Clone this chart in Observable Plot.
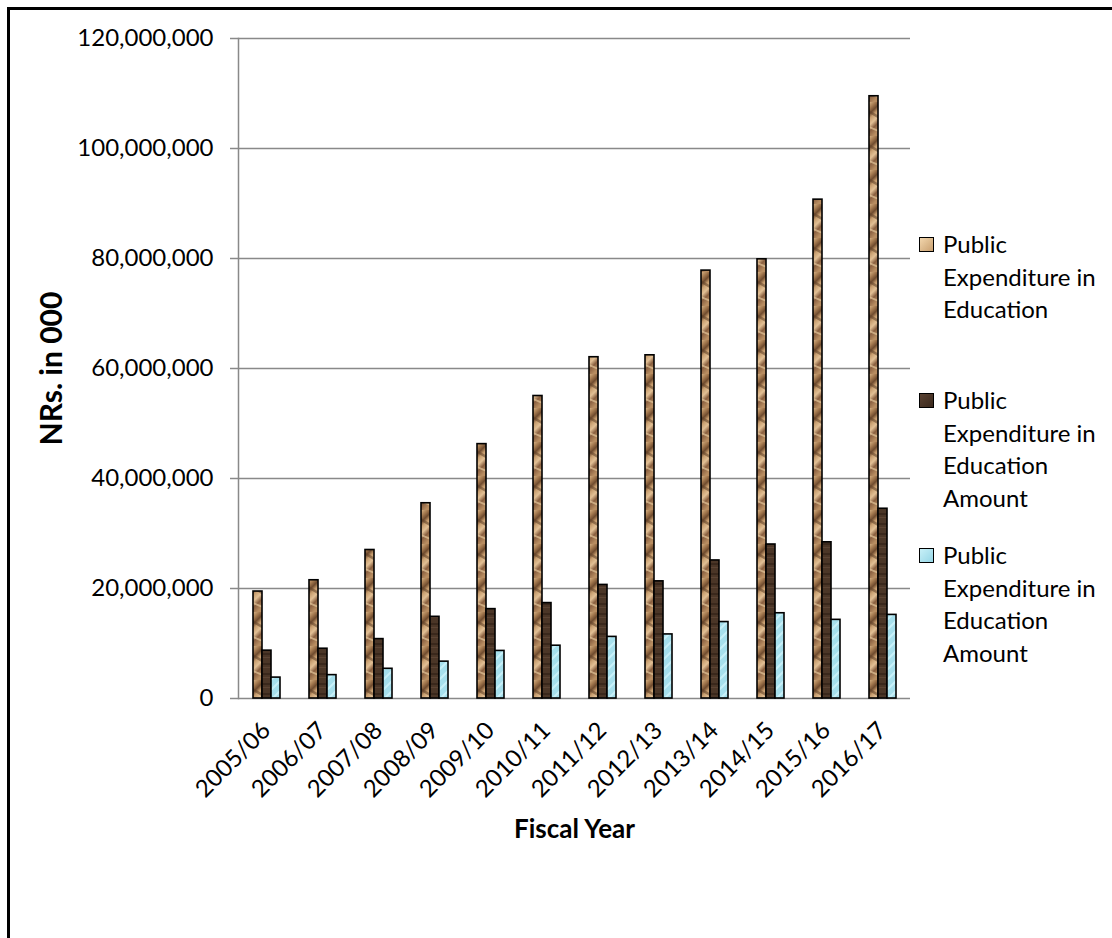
<!DOCTYPE html>
<html>
<head>
<meta charset="utf-8">
<script src="https://cdn.jsdelivr.net/npm/d3@7"></script>
<script src="https://cdn.jsdelivr.net/npm/@observablehq/plot@0.6"></script>
<style>
  html, body { margin: 0; padding: 0; background: #fff; overflow: hidden; }
  body { width: 1112px; height: 938px; position: relative; font-family: Lato, "Open Sans", sans-serif; }
  #border { position: absolute; left: 7px; top: 7px; width: 1300px; height: 1100px;
            border-left: 3px solid #000; border-top: 3px solid #000; }
  #chart { position: absolute; left: 0; top: 0; }
  #chart svg g[aria-label="y-axis label"] { font-weight: 700; font-size: 30px; }
  #chart svg g[aria-label="fx-axis label"] { font-weight: 700; font-size: 26px; }
  .legend { position: absolute; left: 919px; font-size: 24px; line-height: 32.5px; color: #000; }
  .legend .item { position: absolute; left: 0; width: 190px; }
  .legend .swatch { position: absolute; left: 0; top: 9px; width: 13px; height: 13px; border: 1.5px solid #000; }
  .legend .txt { position: absolute; left: 24px; top: 0; white-space: nowrap; }
</style>
</head>
<body>
<div id="border"></div>
<div id="chart"></div>
<div class="legend" id="legend"></div>
<script>
// Fiscal years on the x axis
const years = ["2005/06", "2006/07", "2007/08", "2008/09", "2009/10", "2010/11",
               "2011/12", "2012/13", "2013/14", "2014/15", "2015/16", "2016/17"];

// Series names (shown in the legend)
const seriesNames = [
  "Public Expenditure in Education",
  "Public Expenditure in Education Amount",
  "Public Expenditure in Education Amount "
];

// Values in NRs. thousands
const totalExpenditure = [19450000, 21500000, 27000000, 35500000, 46250000, 55000000,
                          62050000, 62400000, 77800000, 79850000, 90700000, 109500000];
const amountSeriesA = [8700000, 9050000, 10800000, 14850000, 16250000, 17350000,
                       20650000, 21300000, 25100000, 28000000, 28400000, 34500000];
const amountSeriesB = [3800000, 4250000, 5400000, 6700000, 8650000, 9600000,
                       11200000, 11650000, 13900000, 15500000, 14300000, 15200000];

const yTicks = [0, 20000000, 40000000, 60000000, 80000000, 100000000, 120000000];

const seriesValues = [totalExpenditure, amountSeriesA, amountSeriesB];
const rows = years.flatMap((year, i) =>
  seriesNames.map((s, j) => ({year, series: s, value: seriesValues[j][i]})));

const fills = ["url(#wood)", "url(#bark)", "url(#ice)"];
const gridColor = "#898989";

const plot = Plot.plot({
  width: 930,
  height: 830,
  marginLeft: 237,
  marginRight: 19,
  marginTop: 38,
  marginBottom: 132,
  style: {fontFamily: "Lato, 'Open Sans', sans-serif", fontSize: "24px", color: "#000", background: "transparent", overflow: "visible"},
  fx: {domain: years, padding: 0, label: "Fiscal Year"},
  x: {domain: seriesNames, paddingInner: 0, paddingOuter: 1.31, axis: null},
  y: {domain: [0, 120000000], label: "NRs. in 000"},
  color: {domain: seriesNames, range: fills},
  marks: [
    Plot.gridY(yTicks, {stroke: gridColor, strokeOpacity: 1, strokeWidth: 1.5}),
    Plot.frame({anchor: "left", facetAnchor: "left", stroke: gridColor, strokeWidth: 1.5}),
    Plot.axisY(yTicks, {
      tickFormat: d3.format(","), tickSize: 8, tickPadding: 17,
      stroke: gridColor, strokeWidth: 1.5, fill: "#000",
      label: "NRs. in 000", labelAnchor: "center", labelArrow: "none", labelOffset: 198
    }),
    Plot.axisFx({
      anchor: "bottom", tickRotate: -45, tickSize: 0, tickPadding: 28, fill: "#000",
      label: "Fiscal Year", labelAnchor: "center", labelArrow: "none", labelOffset: 139
    }),
    Plot.barY(rows, {
      fx: "year", x: "series", y: "value", fill: "series",
      stroke: "#000", strokeWidth: 1.6
    })
  ]
});

document.getElementById("chart").appendChild(plot);

// Textured fills for the three series
const svg = d3.select(plot);
const defs = svg.insert("defs", ":first-child");

const wood = defs.append("pattern").attr("id", "wood")
  .attr("patternUnits", "userSpaceOnUse").attr("width", 12).attr("height", 34);
const woodGrad = defs.append("linearGradient").attr("id", "woodGrad")
  .attr("x1", 0).attr("y1", 0).attr("x2", 0.35).attr("y2", 1);
[["0", "#d9b486"], ["0.18", "#a57a50"], ["0.32", "#6f4b2e"], ["0.45", "#c79d6e"],
 ["0.62", "#e2c095"], ["0.78", "#8a6040"], ["1", "#b88d61"]]
  .forEach(([o, c]) => woodGrad.append("stop").attr("offset", o).attr("stop-color", c));
wood.append("rect").attr("width", 12).attr("height", 34).attr("fill", "url(#woodGrad)");
wood.append("path").attr("d", "M0,8 L12,15 L12,18 L0,11 Z").attr("fill", "#5e3f26").attr("opacity", 0.55);
wood.append("path").attr("d", "M0,24 L12,29 L12,31 L0,26 Z").attr("fill", "#f0d3a6").attr("opacity", 0.6);

const bark = defs.append("pattern").attr("id", "bark")
  .attr("patternUnits", "userSpaceOnUse").attr("width", 12).attr("height", 10);
bark.append("rect").attr("width", 12).attr("height", 10).attr("fill", "#4b3627");
bark.append("rect").attr("y", 3).attr("width", 12).attr("height", 2).attr("fill", "#3a281c");
bark.append("rect").attr("y", 7).attr("width", 12).attr("height", 1).attr("fill", "#5c4434");

const ice = defs.append("pattern").attr("id", "ice")
  .attr("patternUnits", "userSpaceOnUse").attr("width", 10).attr("height", 10);
ice.append("rect").attr("width", 10).attr("height", 10).attr("fill", "#a6dfec");
ice.append("path").attr("d", "M0,10 L10,0").attr("stroke", "#c8f0f8").attr("stroke-width", 2);

// Legend
const legendTops = [228, 384, 539];
const legendLines = [
  ["Public", "Expenditure in", "Education"],
  ["Public", "Expenditure in", "Education", "Amount"],
  ["Public", "Expenditure in", "Education", "Amount"]
];
const swatchBg = [
  "linear-gradient(135deg, #f2d6ad, #c9a070)",
  "linear-gradient(135deg, #5a4232, #3a281c)",
  "linear-gradient(135deg, #c8f0f8, #96d6e6)"
];
const legend = document.getElementById("legend");
seriesNames.forEach((s, i) => {
  const item = document.createElement("div");
  item.className = "item";
  item.style.top = legendTops[i] + "px";
  const sw = document.createElement("div");
  sw.className = "swatch";
  sw.style.background = swatchBg[i];
  const txt = document.createElement("div");
  txt.className = "txt";
  txt.innerHTML = legendLines[i].join("<br>");
  item.appendChild(sw);
  item.appendChild(txt);
  legend.appendChild(item);
});
</script>
</body>
</html>
